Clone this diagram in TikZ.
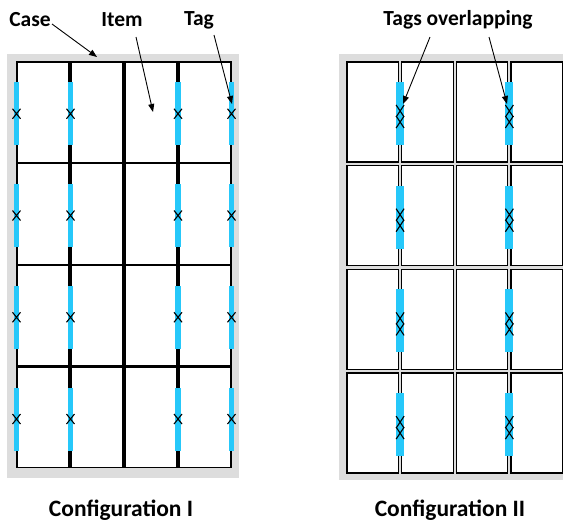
\documentclass[tikz,border=0pt]{standalone}
\usepackage{fontspec}
\setmainfont{Carlito}
\usetikzlibrary{arrows.meta}
\definecolor{casegray}{RGB}{221,221,221}
\definecolor{tagblue}{RGB}{38,200,250}
\tikzset{
  itemA/.style={draw=black, line width=1.4pt, fill=white, minimum width=52pt, minimum height=100.5pt, inner sep=0pt, outer sep=0pt},
  itemB/.style={draw=black, line width=1.3pt, fill=white, minimum width=51.5pt, minimum height=100pt, inner sep=0pt, outer sep=0pt},
  tagA/.style={fill=tagblue, minimum width=5.5pt, minimum height=63pt, inner sep=0pt, outer sep=0pt},
  tagB/.style={fill=tagblue, minimum width=8pt, minimum height=63pt, inner sep=0pt, outer sep=0pt},
  casebox/.style={fill=casegray, draw=none, inner sep=0pt, outer sep=0pt},
  lbl/.style={font=\bfseries\fontsize{21.5}{24}\selectfont, inner sep=1pt},
  cfg/.style={font=\bfseries\fontsize{23.5}{26}\selectfont, inner sep=1pt},
  arr/.style={draw=black, line width=0.9pt, -{Triangle[length=8pt,width=6pt]}},
  xone/.pic={\draw[line width=1.1pt] (-4,-5) -- (4,5) (-4,5) -- (4,-5);},
  xtwo/.pic={\draw[line width=1.1pt] (-4,-11.5) -- (4,0.5) (-4,0.5) -- (4,-11.5)
                                   (-4,-0.5) -- (4,11.5) (-4,11.5) -- (4,-0.5);}
}
\begin{document}
\begin{tikzpicture}[x=1pt,y=-1pt]
\useasboundingbox (0,0) rectangle (563,523);
% cases
\node[casebox, minimum width=232pt, minimum height=424pt] (case1) at (123,266) {};
\node[casebox, minimum width=224pt, minimum height=426pt] (case2) at (451,267) {};
% configuration I items
\foreach \r in {1,...,4}{
  \foreach \c/\x in {1/43,2/97,3/151,4/205}{
    \node[itemA] (a-\r-\c) at (\x,{112.25+(\r-1)*101.75}) {};
  }
}
% configuration II items
\foreach \r in {1,...,4}{
  \foreach \c/\x in {1/372.75,2/427.45,3/482.05,4/536.75}{
    \node[itemB] (b-\r-\c) at (\x,{112+(\r-1)*103.7}) {};
  }
}
% tags config I
\foreach \r in {1,...,4}{
  \foreach \k/\x in {1/16.5,2/70.5,3/178,4/231.5}{
    \node[tagA] (ta-\r-\k) at (\x,{113.75+(\r-1)*101.75}) {};
    \pic at (ta-\r-\k.center) {xone};
  }
}
% tags config II
\foreach \r in {1,...,4}{
  \foreach \k/\x in {1/400.1,2/509.4}{
    \node[tagB] (tb-\r-\k) at (\x,{113.5+(\r-1)*103.7}) {};
    \pic at ([yshift=-3pt]tb-\r-\k.center) {xtwo};
  }
}
% labels
\node[lbl] (lCase) at (30,20) {Case};
\node[lbl] (lItem) at (122,20) {Item};
\node[lbl] (lTag) at (199,20) {Tag};
\node[lbl] (lTags) at (458,20) {Tags overlapping};
\node[cfg] (cfg1) at (121,510) {Configuration I};
\node[cfg] (cfg2) at (450,510) {Configuration II};
% arrow tips
\coordinate (caseTip) at (97,57);
\coordinate (itemTip) at (153,112);
\coordinate (tagTip) at (232,104);
\coordinate (ovTipA) at (403,104);
\coordinate (ovTipB) at (507,104);
% arrows
\draw[arr] ([xshift=22pt,yshift=-4pt]lCase.center) -- (caseTip);
\draw[arr] ([xshift=14pt,yshift=-17pt]lItem.center) -- (itemTip);
\draw[arr] ([xshift=15pt,yshift=-15pt]lTag.center) -- (tagTip);
\draw[arr] ([xshift=-28pt,yshift=-17pt]lTags.center) -- (ovTipA);
\draw[arr] ([xshift=31pt,yshift=-17pt]lTags.center) -- (ovTipB);
\end{tikzpicture}
\end{document}
